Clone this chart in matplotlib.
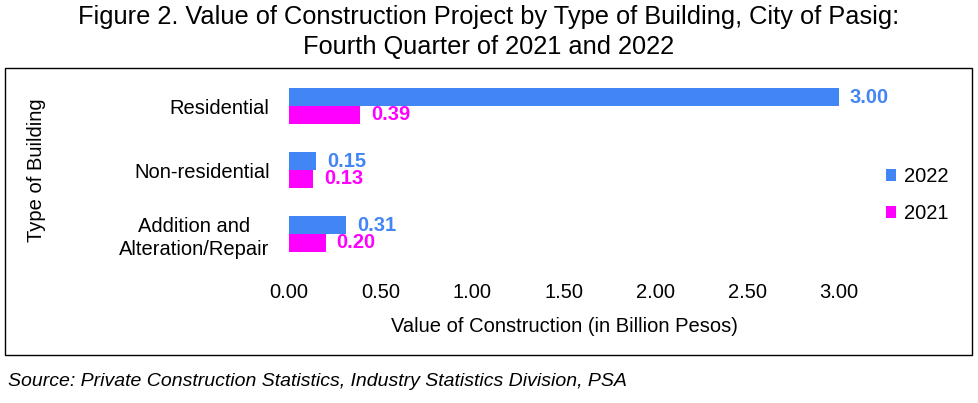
import numpy as np
import matplotlib.pyplot as plt
from matplotlib.patches import Rectangle

plt.rcParams['font.family'] = ['Liberation Sans', 'DejaVu Sans']

# data
categories = ['Residential', 'Non-residential', 'Addition and\nAlteration/Repair']
values_2022 = [3.00, 0.15, 0.31]
values_2021 = [0.39, 0.13, 0.20]
xticks = [0.0, 0.5, 1.0, 1.5, 2.0, 2.5, 3.0]

blue = '#4285F4'
magenta = '#FF00FF'
fs = 14.5

fig = plt.figure(figsize=(9.79, 4.03), dpi=100)
W, H = 979, 403

# box around the chart
fig.patches.append(Rectangle((5 / W, 1 - 355 / H), 967 / W, 287 / H, transform=fig.transFigure,
                             fill=False, edgecolor='black', linewidth=1))

ax = fig.add_axes([289 / W, 1 - 266 / H, 550 / W, 192 / H])
y = np.arange(len(categories))
h = 0.28
ax.barh(y - h / 2, values_2022, height=h, color=blue, label='2022')
ax.barh(y + h / 2, values_2021, height=h, color=magenta, label='2021')

for yi, v in zip(y, values_2022):
    ax.text(v + 0.06, yi - h / 2, f'{v:.2f}', color=blue, fontsize=fs, fontweight='bold',
            va='center', ha='left', clip_on=False)
for yi, v in zip(y, values_2021):
    ax.text(v + 0.06, yi + h / 2, f'{v:.2f}', color=magenta, fontsize=fs, fontweight='bold',
            va='center', ha='left', clip_on=False)

ax.set_ylim(2.5, -0.5)
ax.set_xlim(0, 3.0)
ax.set_yticks(y)
ax.set_yticklabels(categories, fontsize=fs, linespacing=1.25, multialignment='center')
ax.set_xticks(xticks)
ax.set_xticklabels([f'{t:.2f}' for t in xticks], fontsize=fs)
ax.tick_params(axis='both', length=0)
ax.tick_params(axis='x', pad=12)
ax.tick_params(axis='y', pad=14)
for s in ax.spines.values():
    s.set_visible(False)

fig.text(564 / W, 1 - 327 / H, 'Value of Construction (in Billion Pesos)', fontsize=fs,
         ha='center', va='center')
fig.text(37 / W, 1 - 170 / H, 'Type of Building', fontsize=fs, rotation=90,
         ha='center', va='center')

ax.legend(loc='center left', bbox_to_anchor=(868 / W, 1 - 195 / H), bbox_transform=fig.transFigure,
          frameon=False, fontsize=fs, handlelength=0.5, handleheight=0.5, handletextpad=0.4,
          labelspacing=0.9)

fig.text(489 / W, 1 - 32 / H,
         'Figure 2. Value of Construction Project by Type of Building, City of Pasig:\n'
         'Fourth Quarter of 2021 and 2022', fontsize=18.3, ha='center', va='center', linespacing=1.3)

fig.text(8 / W, 1 - 381 / H, 'Source: Private Construction Statistics, Industry Statistics Division, PSA',
         fontsize=14, style='italic', ha='left', va='center')

fig.savefig('out.png', dpi=100)
